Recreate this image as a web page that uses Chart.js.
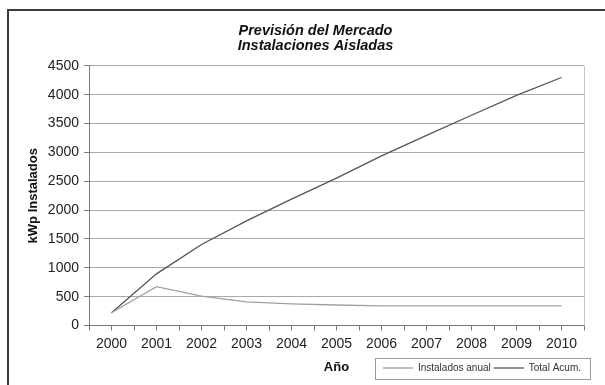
<!DOCTYPE html>
<html>
<head>
<meta charset="utf-8">
<script src="https://cdn.jsdelivr.net/npm/chart.js@4"></script>
<style>
  html, body { margin: 0; padding: 0; background: #ffffff; }
  #wrap { position: relative; width: 605px; height: 385px; overflow: hidden; }
  #frame { position: absolute; left: 7px; top: 9px; width: 700px; height: 500px; border: 2px solid #3a3a3a; box-sizing: border-box; }
  canvas { position: absolute; left: 0; top: 0; }
</style>
</head>
<body>
<div id="wrap">
  <div id="frame"></div>
  <canvas id="c" width="605" height="385"></canvas>
</div>
<script>
const years = ['2000','2001','2002','2003','2004','2005','2006','2007','2008','2009','2010'];
const instaladosAnual = [220, 675, 510, 410, 375, 355, 340, 340, 340, 340, 340];
const totalAcum = [220, 895, 1405, 1815, 2190, 2555, 2940, 3295, 3645, 3990, 4300];
const yTicksMin = 0, yTicksMax = 4500, yTickStep = 500;

const extraTicks = {
  id: 'extraTicks',
  afterDraw(chart) {
    const ctx = chart.ctx, x = chart.scales.x, a = chart.chartArea;
    const step = x.getPixelForValue(1) - x.getPixelForValue(0);
    ctx.save();
    ctx.strokeStyle = '#7a7a7a';
    ctx.lineWidth = 1;
    ctx.beginPath();
    for (let i = 0; i <= years.length; i++) {
      const px = Math.round(x.getPixelForValue(i) - step / 2) + 0.5;
      ctx.moveTo(px, a.bottom);
      ctx.lineTo(px, a.bottom + 5);
    }
    ctx.stroke();
    ctx.strokeStyle = '#c8c8c8';
    ctx.beginPath();
    ctx.moveTo(Math.round(a.right) + 0.5, a.top);
    ctx.lineTo(Math.round(a.right) + 0.5, a.bottom);
    ctx.stroke();
    const lg = chart.legend;
    if (lg && lg.legendHitBoxes && lg.legendHitBoxes.length) {
      const hb = lg.legendHitBoxes;
      const last = hb[hb.length - 1];
      const cy = hb[0].top + hb[0].height / 2;
      const l = Math.round(hb[0].left - 8) + 0.5;
      const r = Math.round(last.left + last.width + 9) + 0.5;
      ctx.strokeStyle = '#9a9a9a';
      ctx.strokeRect(l, Math.round(cy - 10.5) + 0.5, r - l, 21);
    }
    ctx.restore();
  }
};

new Chart(document.getElementById('c'), {
  type: 'line',
  data: {
    labels: years,
    datasets: [
      { label: 'Instalados anual', data: instaladosAnual, borderColor: '#a0a0a0', backgroundColor: '#a0a0a0', borderWidth: 1.3, pointRadius: 0, tension: 0 },
      { label: 'Total Acum.', data: totalAcum, borderColor: '#555555', backgroundColor: '#555555', borderWidth: 1.3, pointRadius: 0, tension: 0 }
    ]
  },
  options: {
    responsive: false,
    animation: false,
    layout: { padding: { left: 47, right: 21, top: 0, bottom: 2 } },
    plugins: {
      title: {
        display: true,
        text: ['Previsión del Mercado', 'Instalaciones Aisladas'],
        font: { family: 'Liberation Sans, Arial, sans-serif', size: 14.5, weight: 'bold', style: 'italic', lineHeight: 1.05 },
        color: '#111',
        padding: { top: 23, bottom: 12.5 }
      },
      legend: {
        display: true,
        position: 'bottom',
        align: 'end',
        labels: {
          usePointStyle: true,
          pointStyle: 'line',
          pointStyleWidth: 30,
          boxWidth: 30,
          boxHeight: 10,
          padding: 3,
          color: '#333',
          font: { family: 'Liberation Sans, Arial, sans-serif', size: 10 }
        }
      },
      tooltip: { enabled: false }
    },
    scales: {
      x: {
        type: 'category',
        offset: true,
        grid: { display: true, drawOnChartArea: false, offset: false, tickLength: 5, color: '#7a7a7a' },
        border: { display: true, color: '#7a7a7a', width: 1 },
        ticks: { color: '#222', padding: 5, maxRotation: 0, autoSkip: false, font: { family: 'Liberation Sans, Arial, sans-serif', size: 14 } },
        title: {
          display: true,
          text: 'Año',
          color: '#111',
          font: { family: 'Liberation Sans, Arial, sans-serif', size: 13, weight: 'bold', lineHeight: 1.2 },
          padding: { top: 2.4, bottom: -15.3 }
        }
      },
      y: {
        min: yTicksMin,
        max: yTicksMax,
        afterFit(scale) { scale.width = 42; },
        grid: { color: '#a8a8a8', tickLength: 5, tickColor: '#7a7a7a' },
        border: { display: true, color: '#7a7a7a', width: 1 },
        ticks: { stepSize: yTickStep, color: '#222', padding: 5, callback: (v) => String(v), font: { family: 'Liberation Sans, Arial, sans-serif', size: 14 } },
        title: {
          display: true,
          text: 'kWp Instalados',
          color: '#111',
          font: { family: 'Liberation Sans, Arial, sans-serif', size: 13, weight: 'bold', lineHeight: 1.2 },
          padding: { top: -21.8, bottom: 0 }
        }
      }
    }
  },
  plugins: [extraTicks]
});
</script>
</body>
</html>
